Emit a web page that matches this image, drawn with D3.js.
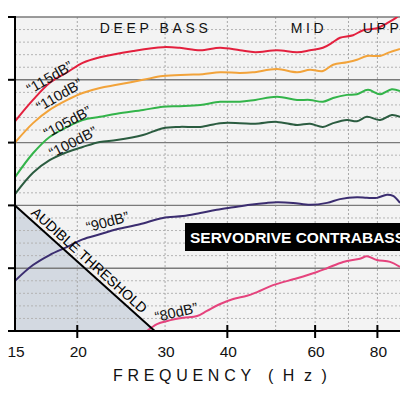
<!DOCTYPE html>
<html>
<head>
<meta charset="utf-8">
<script src="https://d3js.org/d3.v7.min.js"></script>
<style>
  html, body { margin: 0; padding: 0; background: #fff; }
  svg { display: block; font-family: "Liberation Sans", Arial, sans-serif; }
</style>
</head>
<body>
<svg width="400" height="400"></svg>
<script>
// eixo x (Hz, log) e níveis (dB)
const xTickLabels = [15, 20, 30, 40, 60, 80];
const xTickMarks = [20, 40, 60, 80];
const xGrid = [20, 30, 40, 50, 60, 70, 80];
const yMajor = [70, 80, 90, 100, 110, 120];
const yMinor = d3.range(72, 120, 2).filter(v => v % 10 !== 0);

// curvas: frequência (Hz) e nível (dB)
const f115 = [15, 16.3, 17.6, 19.1, 20.5, 22.2, 25.9, 29.7, 32.1, 35.3, 38.7, 42.4, 45.5, 50.3, 55.2, 58.6, 62.2, 65.2, 67.3, 71.5, 74.9, 79.8, 83.6, 87.6, 90];
const db115 = [103.4, 106.8, 109.5, 111.2, 112.7, 113.6, 114.6, 115.2, 115.1, 114.7, 115.1, 114.7, 114.4, 114.7, 114.4, 114.7, 115.1, 116.0, 116.7, 117.1, 117.9, 118.2, 119.0, 120.0, 121.0];

const f110 = [15, 16.3, 17.6, 19.1, 20.5, 22.2, 24.0, 27.1, 29.7, 33.2, 35.7, 38.7, 42.4, 45.0, 50.3, 55.2, 58.6, 62.2, 65.2, 69.5, 72.8, 76.2, 81, 84.8, 88.8];
const db110 = [100.0, 103.1, 105.2, 106.8, 107.9, 108.7, 109.2, 110.0, 110.6, 110.8, 110.9, 111.2, 111.1, 111.2, 111.7, 111.2, 111.6, 111.4, 112.4, 112.8, 113.2, 113.8, 113.8, 114.4, 114.9];

const f105 = [15, 16.3, 17.6, 19.1, 20.5, 22.2, 24.0, 27.1, 29.7, 32.1, 35.3, 38.7, 42.4, 45.5, 50.3, 55.2, 58.6, 62.2, 65.2, 69.5, 72.8, 76.6, 81, 85.5, 88.8];
const db105 = [94.5, 98.3, 100.9, 102.5, 103.6, 104.1, 104.6, 105.2, 105.7, 105.8, 106.0, 106.5, 106.5, 106.8, 107.3, 106.8, 106.8, 106.5, 107.1, 107.6, 107.7, 108.4, 107.7, 108.5, 108.2];

const f100 = [15, 16.3, 17.6, 19.1, 20.5, 22.2, 24.0, 27.1, 29.7, 32.1, 35.3, 38.7, 42.4, 45.5, 50.3, 55.2, 58.6, 62.2, 65.2, 69.5, 72.8, 76.2, 81, 85.5, 88.8];
const db100 = [91.8, 95.2, 97.2, 98.5, 99.3, 100.1, 100.4, 101.2, 102.3, 102.5, 102.5, 103.1, 103.1, 103.0, 103.3, 102.8, 103.0, 102.5, 103.1, 103.6, 103.4, 104.1, 103.6, 104.4, 104.1];

const f90 = [15, 16.3, 17.6, 19.1, 20.5, 22.2, 24.0, 26.7, 29.7, 32.6, 35.3, 38.1, 41.1, 44.4, 48.0, 50.3, 54.2, 58.6, 63.4, 67.3, 72.8, 76.2, 79.8, 83.6, 86, 88.8];
const db90 = [78.0, 80.5, 82.1, 83.4, 84.6, 85.4, 86.2, 87.0, 88.0, 88.3, 88.8, 89.3, 89.7, 90.1, 90.4, 90.5, 90.4, 90.1, 90.4, 91.0, 91.3, 91.2, 91.2, 91.7, 91.5, 90.4];

const f80 = [27.6, 28.9, 30.3, 32.6, 34.8, 36.4, 38.7, 41.1, 43.8, 45.9, 49.4, 55.2, 60.5, 63.4, 68.3, 73.8, 76.2, 79.8, 84.8, 88.8];
const db80 = [70.0, 71.1, 71.6, 72.1, 72.4, 73.2, 74.3, 75.1, 75.6, 76.2, 77.3, 78.4, 79.4, 80.0, 81.0, 81.5, 81.9, 81.3, 81.0, 80.2];

const curveNames = ["115dB", "110dB", "105dB", "100dB", "90dB", "80dB"];
const curveColors = ["#e3203e", "#f2a33a", "#33b44a", "#2b5c40", "#3b2d70", "#e5437d"];
const curveFreqs = [f115, f110, f105, f100, f90, f80];
const curveDbs = [db115, db110, db105, db100, db90, db80];
// posição (Hz, dB) e ângulo dos rótulos das curvas
const labelFreqs = [17.6, 18.4, 19.1, 19.6, 23.0, 31.6];
const labelDbs = [110.4, 107.6, 103.3, 100.1, 87.4, 73.0];
const labelAngles = [-30, -30, -28, -27, -15, -13];

// limiar audível: reta de (15 Hz, 90 dB) até (28.6 Hz, 70 dB)
const thresholdFreqs = [15, 28.6];
const thresholdDbs = [90, 70];

const bandNames = ["DEEP BASS", "MID", "UPPER"];
const bandFreqs = [22.2, 53.6, 74.8];

const svg = d3.select("svg");
const x = d3.scaleLog().domain([15, 88.8]).range([15, 400]);
const y = d3.scaleLinear().domain([70, 120]).range([331, 17]);

svg.append("defs").append("clipPath").attr("id", "plot")
  .append("rect").attr("x", 15).attr("y", 17).attr("width", 385).attr("height", 314);

// fundo da área do gráfico
svg.append("rect")
  .attr("x", 15).attr("y", 17).attr("width", 385).attr("height", 314)
  .attr("fill", "#f3f3f3");

// área abaixo do limiar
const thr = thresholdFreqs.map((f, i) => [x(f), y(thresholdDbs[i])]);
svg.append("path")
  .attr("d", `M${thr[0][0]},${thr[0][1]}L${thr[1][0]},${thr[1][1]}L${x(15)},${y(70)}Z`)
  .attr("fill", "#d3d9e1");

// grade
svg.selectAll(".minor").data(yMinor).enter().append("line")
  .attr("x1", 15).attr("x2", 400)
  .attr("y1", d => y(d)).attr("y2", d => y(d))
  .attr("stroke", "#b4b4b4").attr("stroke-width", 1).attr("stroke-dasharray", "2,2");

svg.selectAll(".vgrid").data(xGrid).enter().append("line")
  .attr("x1", d => x(d)).attr("x2", d => x(d))
  .attr("y1", 17).attr("y2", 331)
  .attr("stroke", "#a8a8a8").attr("stroke-width", 1).attr("stroke-dasharray", "2,2");

svg.selectAll(".major").data(yMajor).enter().append("line")
  .attr("x1", 15).attr("x2", 400)
  .attr("y1", d => y(d)).attr("y2", d => y(d))
  .attr("stroke", "#7a7a7a").attr("stroke-width", 1.4);

// curvas
const line = d3.line().x(d => x(d[0])).y(d => y(d[1])).curve(d3.curveCatmullRom.alpha(0.5));
const curves = curveNames.map((n, i) => ({
  name: n, color: curveColors[i],
  pts: curveFreqs[i].map((f, j) => [f, curveDbs[i][j]])
}));
svg.append("g").attr("clip-path", "url(#plot)")
  .selectAll("path").data(curves).enter().append("path")
  .attr("d", d => line(d.pts))
  .attr("fill", "none")
  .attr("stroke", d => d.color)
  .attr("stroke-width", 2);

// linha do limiar
svg.append("line")
  .attr("x1", thr[0][0]).attr("y1", thr[0][1])
  .attr("x2", thr[1][0]).attr("y2", thr[1][1])
  .attr("stroke", "#000").attr("stroke-width", 2);

const ang = Math.atan2(thr[1][1] - thr[0][1], thr[1][0] - thr[0][0]) * 180 / Math.PI;
const tx = thr[0][0] + (thr[1][0] - thr[0][0]) * 0.09;
const ty = thr[0][1] + (thr[1][1] - thr[0][1]) * 0.09;
svg.append("text")
  .attr("transform", `translate(${tx},${ty}) rotate(${ang})`)
  .attr("dy", -4)
  .attr("font-size", 14)
  .attr("fill", "#000")
  .text("AUDIBLE THRESHOLD");

// rótulos das curvas
svg.selectAll(".clabel").data(curveNames).enter().append("text")
  .attr("transform", (d, i) => `translate(${x(labelFreqs[i])},${y(labelDbs[i])}) rotate(${labelAngles[i]})`)
  .attr("text-anchor", "middle")
  .attr("dy", "0.35em")
  .attr("font-size", 14.5)
  .attr("fill", "#111")
  .text(d => `\u201C${d}\u201D`);

// faixas no topo
svg.selectAll(".band").data(bandNames).enter().append("text")
  .attr("x", (d, i) => x(bandFreqs[i]))
  .attr("y", 33)
  .attr("font-size", 14)
  .attr("letter-spacing", 3.6)
  .attr("fill", "#111")
  .text(d => d);

// caixa do título
svg.append("rect")
  .attr("x", 185).attr("y", 223).attr("width", 220).attr("height", 28)
  .attr("fill", "#000");
svg.append("text")
  .attr("x", 190).attr("y", 243)
  .attr("font-size", 15.5).attr("font-weight", "bold")
  .attr("fill", "#fff")
  .text("SERVODRIVE CONTRABASS");

// eixos
svg.append("line")
  .attr("x1", 15).attr("x2", 15).attr("y1", 16).attr("y2", 332)
  .attr("stroke", "#000").attr("stroke-width", 2);
svg.selectAll(".ytick").data(yMajor).enter().append("line")
  .attr("x1", 8).attr("x2", 15)
  .attr("y1", d => y(d)).attr("y2", d => y(d))
  .attr("stroke", "#000").attr("stroke-width", 2);
svg.append("line")
  .attr("x1", 10).attr("x2", 400).attr("y1", 331).attr("y2", 331)
  .attr("stroke", "#000").attr("stroke-width", 2);
svg.selectAll(".xtick").data(xTickMarks).enter().append("line")
  .attr("x1", d => x(d)).attr("x2", d => x(d))
  .attr("y1", 325).attr("y2", 338)
  .attr("stroke", "#000").attr("stroke-width", 2);

svg.selectAll(".xlabel").data(xTickLabels).enter().append("text")
  .attr("x", d => x(d) + 1)
  .attr("y", 357)
  .attr("text-anchor", "middle")
  .attr("font-size", 15.5)
  .attr("fill", "#111")
  .text(d => d);

svg.append("text")
  .attr("x", 113).attr("y", 381)
  .attr("font-size", 16)
  .attr("letter-spacing", 4.7)
  .attr("fill", "#111")
  .text("FREQUENCY");
svg.append("text")
  .attr("x", 268).attr("y", 381)
  .attr("font-size", 16)
  .attr("letter-spacing", 9.5)
  .attr("fill", "#111")
  .text("(Hz)");
</script>
</body>
</html>
